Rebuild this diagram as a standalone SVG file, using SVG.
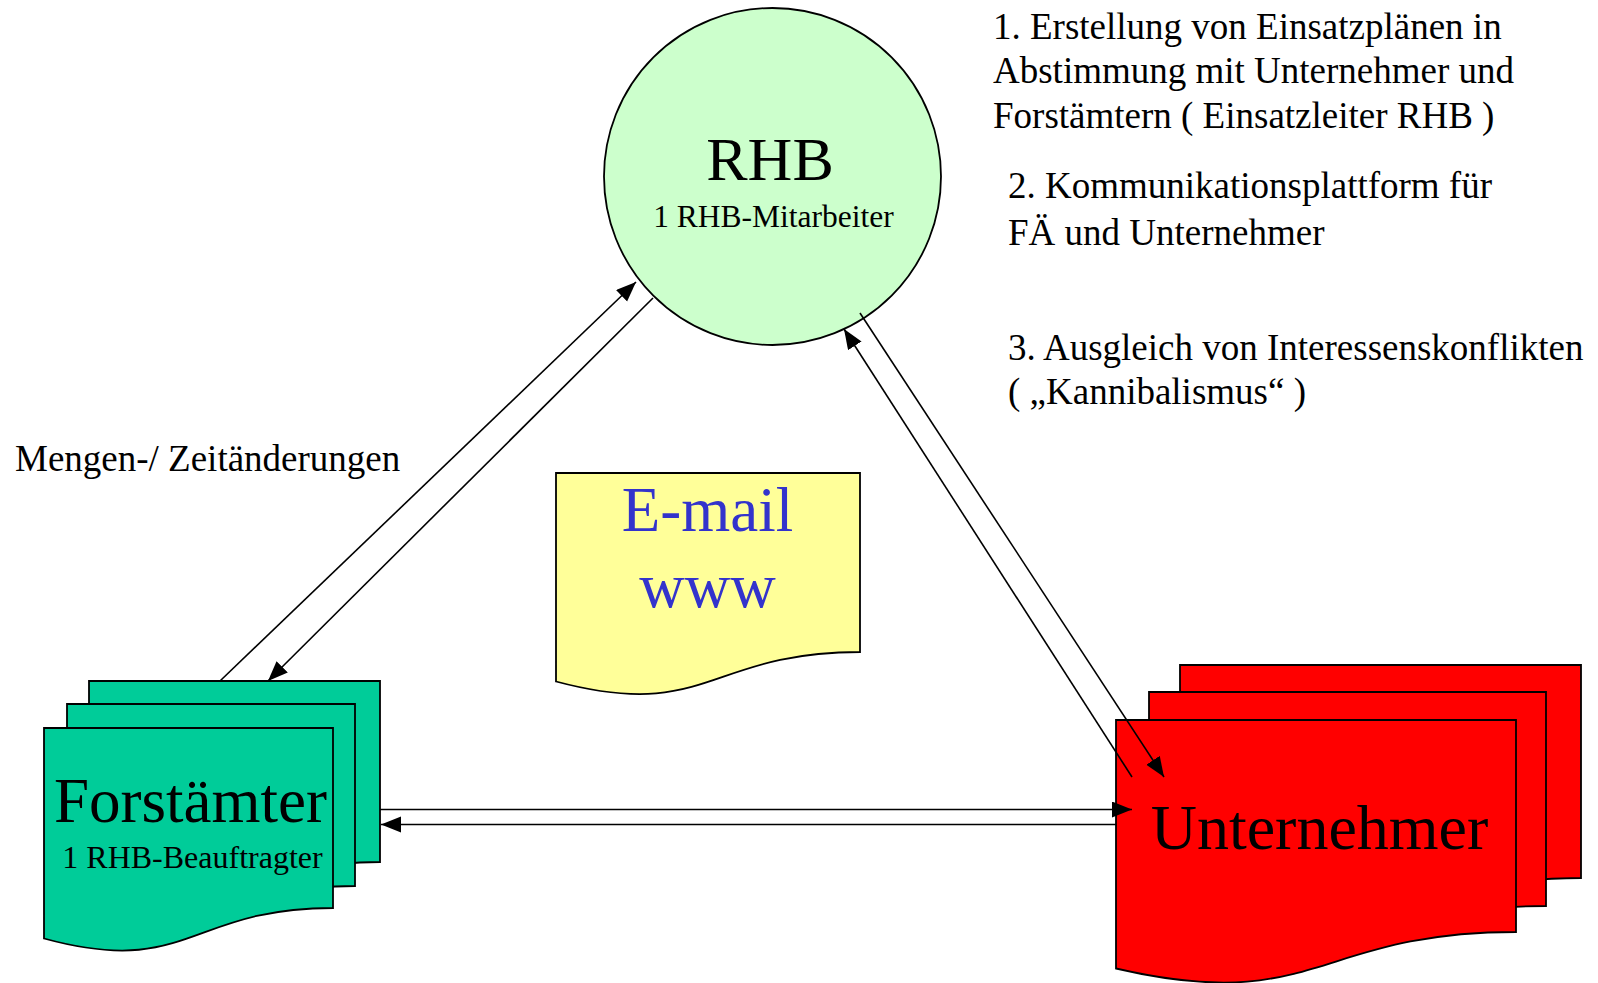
<svg xmlns="http://www.w3.org/2000/svg" width="1598" height="983" viewBox="0 0 1598 983">
<style>
  text { font-family: "Liberation Serif", "Times New Roman", serif; fill: #000; }
  .sheet { stroke: #000; stroke-width: 1.8; stroke-linejoin: miter; }
  .forst { fill: #00CC99; }
  .unter { fill: #FF0000; }
  .conn { stroke: #000; stroke-width: 1.6; fill: none; }
  .note { font-size: 37px; }
  .mid { text-anchor: middle; }
  .blue { fill: #3333CC; }
</style>
<defs>
  <marker id="arrow" markerUnits="userSpaceOnUse" markerWidth="22" markerHeight="18" refX="20" refY="8" orient="auto">
    <path d="M0,0 L20,8 L0,16 z" fill="#000"/>
  </marker>
</defs>
<rect width="1598" height="983" fill="#fff"/>

<g id="node-rhb">
  <circle cx="772.5" cy="176.5" r="168.5" fill="#CCFFCC" stroke="#000" stroke-width="1.8"/>
  <text x="770" y="180" class="mid" font-size="62">RHB</text>
  <text x="773.5" y="227" class="mid" font-size="31.5">1 RHB-Mitarbeiter</text>
</g>

<g id="node-email">
  <path d="M556,473 H860 V652 C708,652 708,722 556,681.5 Z" fill="#FFFF99" stroke="#000" stroke-width="1.8"/>
  <text x="707.5" y="531" class="mid blue" font-size="63">E-mail</text>
  <text x="707.5" y="607" class="mid blue" font-size="63">www</text>
</g>

<g id="node-forstaemter">
  <path class="sheet forst" d="M89,681 H380 V862 C234.5,862 234.5,932 89,891 Z"/>
  <path class="sheet forst" d="M67,704 H355 V886 C211,886 211,956 67,914.5 Z"/>
  <path class="sheet forst" d="M44,728 H333 V908 C188.5,908 188.5,978 44,938.5 Z"/>
  <text x="190.5" y="822" class="mid" font-size="63">Forstämter</text>
  <text x="192.5" y="868" class="mid" font-size="32">1 RHB-Beauftragter</text>
</g>

<g id="node-unternehmer">
  <path class="sheet unter" d="M1180,665 H1581 V878 C1380.5,878 1380.5,961 1180,913.5 Z"/>
  <path class="sheet unter" d="M1149,692 H1546 V906 C1347.5,906 1347.5,989 1149,941 Z"/>
  <path class="sheet unter" d="M1116,720 H1516 V932 C1316,932 1316,1015 1116,968.5 Z"/>
  <text x="1319.5" y="849" class="mid" font-size="64">Unternehmer</text>
</g>

<g id="connectors">
  <line class="conn" x1="220" y1="681" x2="636" y2="282" marker-end="url(#arrow)"/>
  <line class="conn" x1="653" y1="298" x2="268" y2="681" marker-end="url(#arrow)"/>
  <line class="conn" x1="860" y1="313" x2="1164" y2="777" marker-end="url(#arrow)"/>
  <line class="conn" x1="1132" y1="777" x2="844" y2="329" marker-end="url(#arrow)"/>
  <line class="conn" x1="380" y1="809.5" x2="1132" y2="809.5" marker-end="url(#arrow)"/>
  <line class="conn" x1="1116" y1="824.5" x2="381" y2="824.5" marker-end="url(#arrow)"/>
</g>

<g id="labels">
  <text x="15" y="471" class="note">Mengen-/ Zeitänderungen</text>
  <text x="993" y="39" class="note">1. Erstellung von Einsatzplänen in</text>
  <text x="993" y="83" class="note">Abstimmung mit Unternehmer und</text>
  <text x="993" y="128" class="note">Forstämtern ( Einsatzleiter RHB )</text>
  <text x="1008" y="198" class="note">2. Kommunikationsplattform für</text>
  <text x="1008" y="245" class="note">FÄ und Unternehmer</text>
  <text x="1008" y="360" class="note">3. Ausgleich von Interessenskonflikten</text>
  <text x="1008" y="404" class="note">( „Kannibalismus“ )</text>
</g>
</svg>
